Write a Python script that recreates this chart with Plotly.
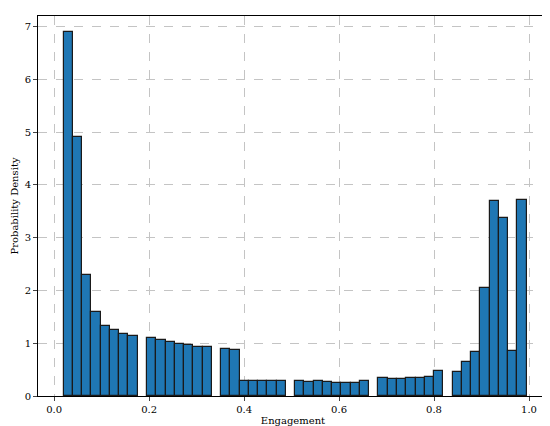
import plotly.graph_objects as go

start = 0.02
bin_width = 0.0195
# density per bin slot (None = empty slot)
density = [6.9, 4.9, 2.3, 1.6, 1.33, 1.25, 1.17, 1.13, None,
           1.09, 1.06, 1.03, 0.99, 0.975, 0.93, 0.92, None,
           0.90, 0.88, 0.29, 0.29, 0.29, 0.29, 0.28, None,
           0.28, 0.26, 0.29, 0.26, 0.25, 0.25, 0.25, 0.28, None,
           0.34, 0.33, 0.33, 0.35, 0.35, 0.36, 0.48, None,
           0.46, 0.65, 0.84, 2.05, 3.70, 3.37, 0.85, 3.71]

xs = [start + (i + 0.5) * bin_width for i, d in enumerate(density) if d is not None]
ys = [d for d in density if d is not None]

font = "DejaVu Serif"
fig = go.Figure(go.Bar(x=xs, y=ys, width=bin_width, marker=dict(color="#1f77b4", line=dict(color="#1a1a1a", width=1.2))))
axis = dict(showline=True, linecolor="black", linewidth=1, mirror=True, ticks="outside", ticklen=4,
            showgrid=True, gridcolor="#c4c4c4", griddash="dash", gridwidth=1, zeroline=False, automargin=False,
            tickfont=dict(family=font, size=10, color="black"))
fig.update_layout(
    width=550, height=426, margin=dict(l=30, r=10, t=8, b=38),
    plot_bgcolor="white", paper_bgcolor="white", showlegend=False, bargap=0,
    xaxis=dict(axis, range=[-0.034, 1.04], tickvals=[0, 0.2, 0.4, 0.6, 0.8, 1.0], tickformat=".1f",
               title=dict(text="Engagement", font=dict(family=font, size=10, color="black"), standoff=2)),
    yaxis=dict(axis, range=[0, 7.2], dtick=1,
               title=dict(text="Probability Density", font=dict(family=font, size=10, color="black"), standoff=4)),
)
fig.write_html("out.html")
